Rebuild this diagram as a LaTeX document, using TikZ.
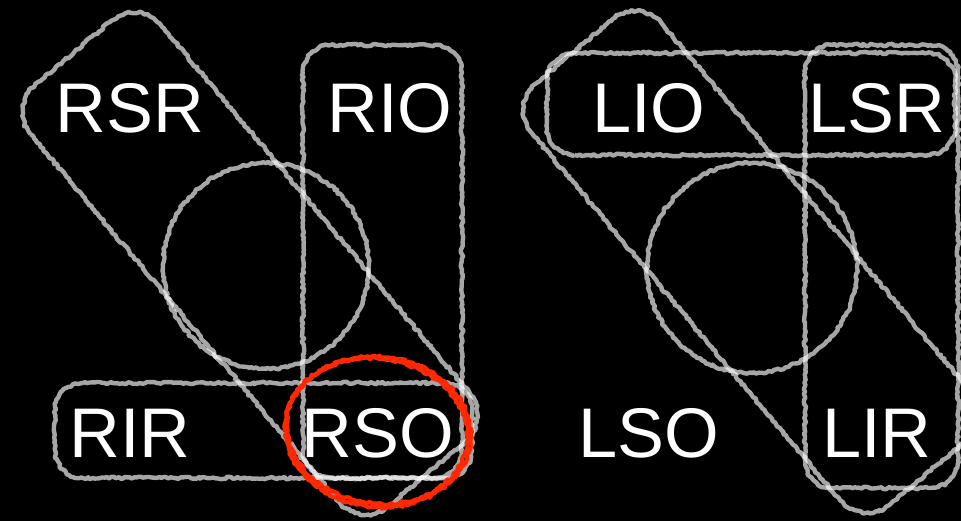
\documentclass[tikz,border=0pt]{standalone}
\usepackage{fontspec}
\setmainfont{Liberation Sans}
\usepackage{xcolor}
\usepackage{tikz}
\usetikzlibrary{decorations.pathmorphing}
\definecolor{pen}{RGB}{255,40,0}
\pgfmathsetseed{7}

\begin{document}
\begin{tikzpicture}[x=0.02cm, y=0.02cm,
  sketch/.style={draw=white, draw opacity=0.65, line width=2.5pt, line join=round,
    decorate, decoration={random steps, segment length=1.4pt, amplitude=0.7pt}},
  muscle/.style={text=white, anchor=base, inner sep=0pt, font=\fontsize{40}{48}\selectfont},
  redpen/.style={draw=pen, line width=2.4pt, line join=round,
    decorate, decoration={random steps, segment length=1.4pt, amplitude=0.8pt}}]
% Background
\fill[black] (0,0) rectangle (961,521);
\clip (0,0) rectangle (961,521);

% Circles
\draw[sketch] (266,255) circle [radius=2.06cm];
\draw[sketch] (752,253) circle [radius=2.1cm];

% Straight groups (corner x, corner y, corner x, corner y)
\foreach \xa/\ya/\xb/\yb in {303/43/462/476, 55/43/472/138, 547/366/955/468, 805/33/958/476}
  \draw[sketch] ([xshift=0.55cm]\xa,\ya) -- ([xshift=-0.55cm]\xb,\ya)
    arc[start angle=-90, end angle=0, radius=0.55cm] -- ([yshift=-0.55cm]\xb,\yb)
    arc[start angle=0, end angle=90, radius=0.55cm] -- ([xshift=0.55cm]\xa,\yb)
    arc[start angle=90, end angle=180, radius=0.55cm] -- ([yshift=0.55cm]\xa,\ya)
    arc[start angle=180, end angle=270, radius=0.55cm] -- cycle;

% Oblique groups
\foreach \cx/\cy in {250/257.5, 751/259}
  \draw[sketch, shift={(\cx,\cy)}, rotate=-50] (-240,-85) -- (240,-85)
    arc[start angle=-90, end angle=0, radius=0.7cm] -- (275,50)
    arc[start angle=0, end angle=90, radius=0.7cm] -- (-240,85)
    arc[start angle=90, end angle=180, radius=0.7cm] -- (-275,-50)
    arc[start angle=180, end angle=270, radius=0.7cm] -- cycle;

% Right eye
\node[muscle] (rsr) at (130,388) {RSR};
\node[muscle] (rio) at (390,388) {RIO};
\node[muscle] (rir) at (130,63) {RIR};
\node[muscle] (rso) at (378,63) {RSO};

% Highlight
\draw[redpen, rotate around={-6:(378,89)}] (378,89) ellipse [x radius=1.86cm, y radius=1.5cm];
\draw[redpen, rotate around={-10:(377,90)}] (377,90) ellipse [x radius=1.82cm, y radius=1.45cm];

% Left eye
\node[muscle] (lio) at (649,388) {LIO};
\node[muscle] (lsr) at (877,388) {LSR};
\node[muscle] (lso) at (649,63) {LSO};
\node[muscle] (lir) at (877,63) {LIR};
\end{tikzpicture}
\end{document}
